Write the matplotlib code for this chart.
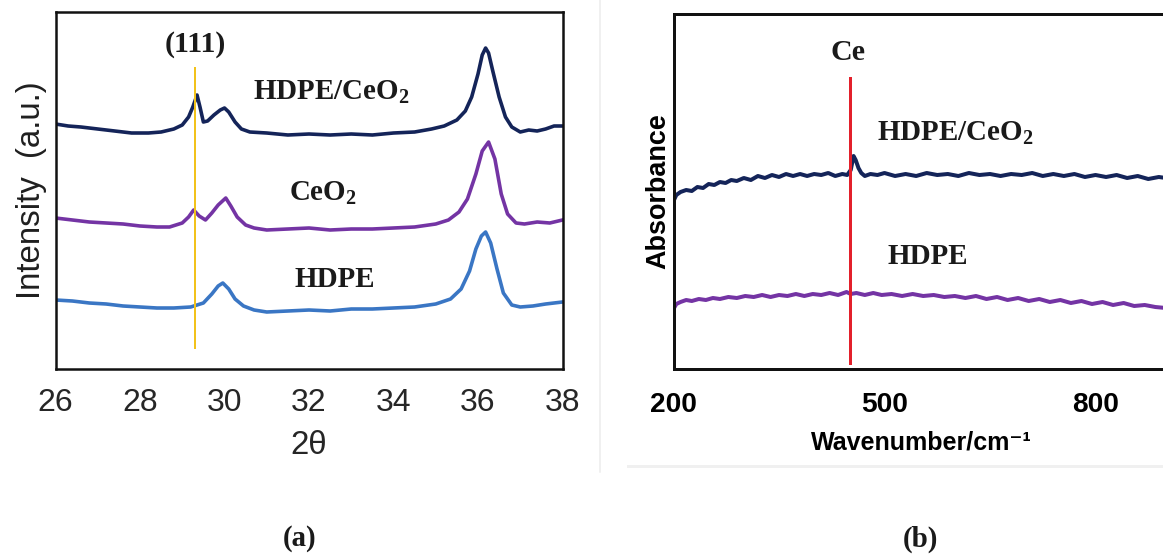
import numpy as np
import matplotlib
matplotlib.use("Agg")
import matplotlib.pyplot as plt
from matplotlib.lines import Line2D

plt.rcParams["mathtext.fontset"] = "custom"
plt.rcParams["mathtext.rm"] = "Liberation Serif:bold"
plt.rcParams["mathtext.bf"] = "Liberation Serif:bold"
plt.rcParams["mathtext.default"] = "rm"

# (a) XRD patterns, intensity in arbitrary units (stacked)
two_theta_cc = [26.0, 26.3, 26.6, 27.0, 27.4, 27.8, 28.2, 28.5, 28.8, 29.0, 29.15, 29.25, 29.35,
                29.42, 29.5, 29.6, 29.75, 29.9, 30.0, 30.1, 30.25, 30.4, 30.6, 31.0, 31.5, 32.0,
                32.5, 33.0, 33.5, 34.0, 34.5, 34.9, 35.2, 35.5, 35.7, 35.85, 36.0, 36.1, 36.18,
                36.25, 36.35, 36.5, 36.65, 36.8, 37.0, 37.2, 37.4, 37.6, 37.8, 38.0]
int_cc = [245, 243, 242, 240, 238, 236, 236, 237, 240, 244, 252, 262, 274,
          262, 247, 248, 254, 259, 261, 257, 247, 240, 237, 236, 234, 235,
          234, 235, 234, 236, 237, 240, 243, 249, 258, 272, 295, 314, 321,
          316, 298, 272, 252, 242, 237, 239, 238, 240, 243, 243]

two_theta_ceo2 = [26.0, 26.4, 26.8, 27.2, 27.6, 28.0, 28.4, 28.7, 29.0, 29.15, 29.27, 29.4, 29.55,
                  29.7, 29.85, 30.03, 30.15, 30.3, 30.5, 30.7, 31.0, 31.5, 32.0, 32.5, 33.0, 33.5,
                  34.0, 34.5, 35.0, 35.3, 35.55, 35.75, 35.95, 36.1, 36.25, 36.4, 36.55, 36.7,
                  36.9, 37.1, 37.4, 37.7, 38.0]
int_ceo2 = [151, 149, 147, 146, 145, 143, 142, 142, 146, 152, 159, 153, 149,
            156, 164, 171, 163, 152, 144, 141, 139, 140, 141, 139, 140, 140,
            141, 142, 145, 149, 157, 170, 195, 218, 227, 210, 175, 155,
            146, 145, 147, 146, 149]

two_theta_hdpe = [26.0, 26.4, 26.8, 27.2, 27.6, 28.0, 28.4, 28.8, 29.2, 29.5, 29.7, 29.85, 29.96,
                  30.1, 30.25, 30.45, 30.7, 31.0, 31.5, 32.0, 32.5, 33.0, 33.5, 34.0, 34.5, 35.0,
                  35.35, 35.6, 35.8, 35.95, 36.08, 36.18, 36.3, 36.45, 36.6, 36.8, 37.0, 37.3,
                  37.6, 38.0]
int_hdpe = [69, 68, 66, 65, 63, 62, 61, 61, 62, 66, 75, 83, 86,
            80, 70, 63, 59, 57, 58, 59, 58, 60, 60, 61, 62, 65,
            70, 80, 98, 120, 133, 137, 126, 100, 76, 64, 62, 63,
            65, 67]

peak_111 = 29.3
xrd_ticks = [26, 28, 30, 32, 34, 36, 38]

# (b) absorbance spectra (stacked)
wn_cc = [200, 204, 210, 218, 226, 234, 242, 250, 258, 266, 274, 282, 290, 300, 310, 320, 330,
         340, 350, 360, 370, 380, 390, 400, 410, 420, 430, 440, 447, 452, 456, 459, 463, 467,
         472, 480, 490, 500, 515, 530, 545, 560, 575, 590, 605, 620, 635, 650, 665, 680, 695,
         710, 725, 740, 755, 770, 785, 800, 815, 830, 845, 860, 875, 890, 900]
abs_cc = [168, 174, 177, 179, 178, 182, 181, 185, 184, 187, 186, 189, 188, 191, 189, 193, 191,
          194, 192, 195, 193, 195, 193, 195, 194, 196, 193, 195, 194, 199, 213, 209, 201, 196,
          193, 195, 194, 196, 193, 195, 193, 196, 194, 195, 193, 196, 194, 195, 193, 195, 194,
          196, 193, 195, 193, 195, 192, 194, 192, 194, 191, 193, 190, 192, 191]

wn_hdpe = [200, 204, 210, 218, 226, 236, 246, 256, 266, 278, 290, 302, 314, 326, 338, 350, 362,
           374, 386, 398, 410, 422, 434, 446, 452, 460, 472, 484, 496, 510, 525, 540, 555, 570,
           585, 600, 615, 630, 645, 660, 675, 690, 705, 720, 735, 750, 765, 780, 795, 810, 825,
           840, 855, 870, 885, 900]
abs_hdpe = [60, 65, 67, 69, 68, 70, 69, 71, 70, 72, 71, 73, 72, 74, 72, 74, 73,
            75, 73, 75, 74, 76, 74, 77, 75, 76, 74, 76, 74, 75, 73, 75, 73, 74,
            72, 73, 71, 73, 70, 72, 69, 71, 68, 70, 67, 69, 66, 68, 65, 67, 64,
            66, 63, 64, 62, 61]

ce_line = 451
ir_ticks = [200, 500, 800]

navy = "#142459"
purple = "#7434a4"
blue = "#3a76c4"

fig = plt.figure(figsize=(1163 / 72, 554 / 72), dpi=72)

# ---------------- (a) ----------------
ax1 = fig.add_axes([55.5 / 1163, 185 / 554, 507 / 1163, 357 / 554])
ax1.plot(two_theta_cc, int_cc, color=navy, lw=3.6)
ax1.plot(two_theta_ceo2, int_ceo2, color=purple, lw=3.6)
ax1.plot(two_theta_hdpe, int_hdpe, color=blue, lw=3.6)
ax1.plot([peak_111, peak_111], [21, 301], color="#f2c21b", lw=2)

serif = dict(family="Liberation Serif", fontweight="bold", color="#1a1a1a",
             ha="center", va="center")
ax1.text(peak_111, 324, "(111)", fontsize=30, **serif)
ax1.text(32.52, 277, "HDPE/CeO$_2$", fontsize=29, **serif)
ax1.text(32.32, 176, "CeO$_2$", fontsize=29, **serif)
ax1.text(32.62, 89, "HDPE", fontsize=29, **serif)

ax1.set_xlim(26, 38)
ax1.set_ylim(0, 357)
ax1.set_xticks(xrd_ticks)
ax1.set_yticks([])
ax1.tick_params(axis="x", length=0, pad=19, labelsize=32, labelcolor="#262626")
for lab in ax1.get_xticklabels():
    lab.set_family("Liberation Sans")
ax1.set_xlabel("2θ", fontsize=33, family="Liberation Sans", color="#262626", labelpad=12)
ax1.set_ylabel("Intensity  (a.u.)", fontsize=33, family="Liberation Sans", color="#1f1f1f",
               labelpad=8)
for s in ax1.spines.values():
    s.set_linewidth(2.5)
    s.set_color("#111111")

# ---------------- (b) ----------------
px_per_unit = 211 / 300
ax2 = fig.add_axes([673.5 / 1163, 185 / 554, 705 * px_per_unit / 1163, 355 / 554])
ax2.plot(wn_cc, abs_cc, color=navy, lw=4)
ax2.plot(wn_hdpe, abs_hdpe, color=purple, lw=4)
ax2.plot([ce_line, ce_line], [6, 291], color="#e3202b", lw=3)

ax2.text(448, 317, "Ce", fontsize=30, **serif)
ax2.text(601, 236, "HDPE/CeO$_2$", fontsize=29, **serif)
ax2.text(561, 112, "HDPE", fontsize=29, **serif)

ax2.set_xlim(200, 905)
ax2.set_ylim(0, 355)
ax2.set_xticks(ir_ticks)
ax2.set_yticks([])
ax2.tick_params(axis="x", length=0, pad=23, labelsize=28)
for lab in ax2.get_xticklabels():
    lab.set_family("Liberation Sans")
    lab.set_fontweight("bold")
ax2.set_xlabel("Wavenumber/cm⁻¹", fontsize=25, fontweight="bold",
               family=["Liberation Sans", "DejaVu Sans"], labelpad=12)
ax2.set_ylabel("Absorbance", fontsize=27, fontweight="bold", family="Liberation Sans",
               labelpad=2)
for s in ax2.spines.values():
    s.set_linewidth(3)
    s.set_color("#111111")

# faint panel separators
fig.add_artist(Line2D([600 / 1163, 600 / 1163], [1, 1 - 472 / 554], color="#ececec", lw=1.5))
fig.add_artist(Line2D([628 / 1163, 1], [1 - 466 / 554, 1 - 466 / 554], color="#f0f0f0", lw=3))

# panel captions
fig.text(300 / 1163, 1 - 539 / 554, "(a)", fontsize=29, **serif)
fig.text(920 / 1163, 1 - 539 / 554, "(b)", fontsize=29, **serif)

fig.savefig("out.png", dpi=72)
